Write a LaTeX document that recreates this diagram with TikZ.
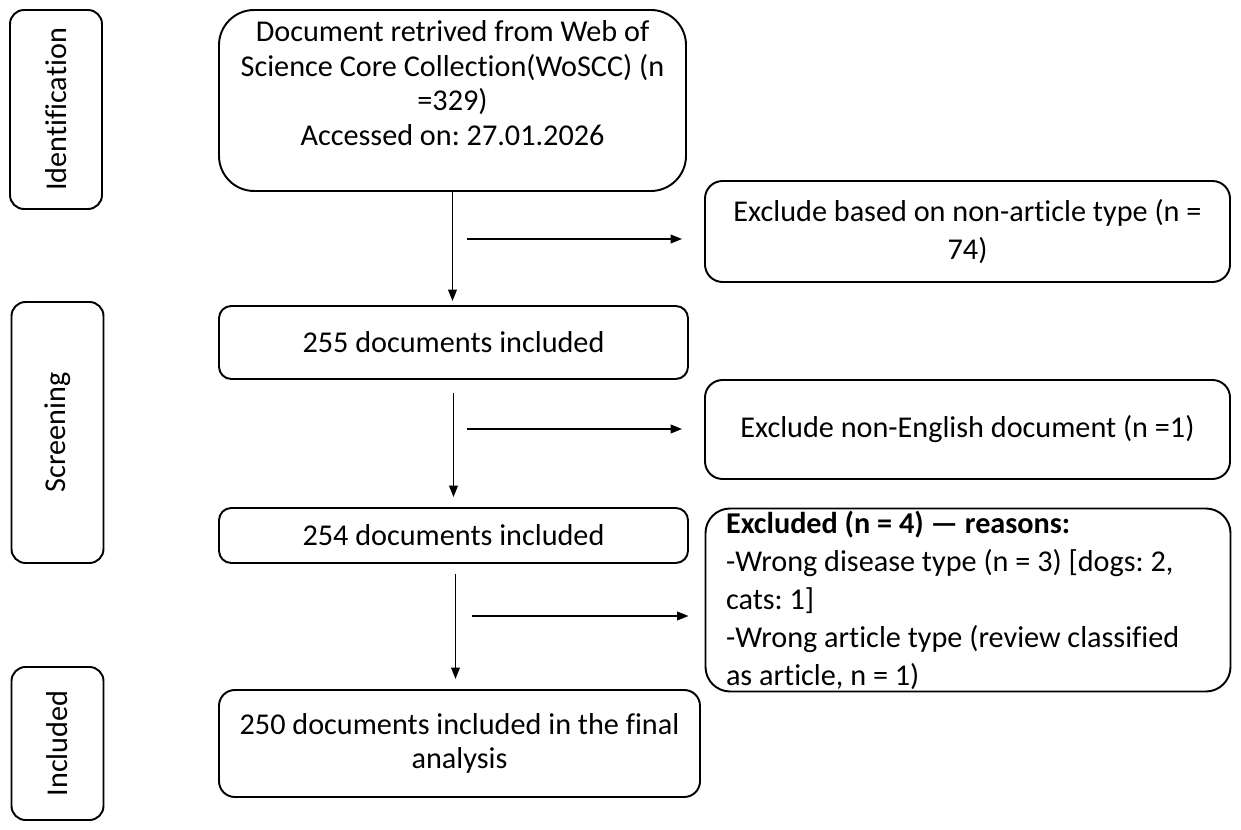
\documentclass[tikz,border=0pt]{standalone}
\usepackage{fontspec}
\setmainfont{Carlito}[Ligatures=NoCommon]
\usepackage{tikz}
\usetikzlibrary{arrows.meta,positioning,calc}
\newlength\pxu
\setlength\pxu{0.02cm}
\frenchspacing

\begin{document}
\begin{tikzpicture}[x=\pxu,y=-\pxu,font=\fontsize{17.2}{19.7}\selectfont,
  >={Triangle[length=6.5pt,width=5pt]},
  box/.style={draw,line width=1.1pt,rounded corners=#1,inner sep=0pt,align=center},
  box/.default=7pt,
  phase/.style={box=8pt,rotate=90,minimum height=92\pxu},
  exbox/.style={box=10pt,minimum width=525\pxu,font=\fontsize{17.2}{21.6}\selectfont},
  flow/.style={->,line width=0.8pt}]
  \useasboundingbox (0,0) rectangle (1241,830);

  \node[phase,minimum width=199\pxu] (idf) at (56,109.5) {Identification};
  \node[phase,minimum width=261\pxu] (scr) at (57.5,432.5) {Screening};
  \node[phase,minimum width=153\pxu] (inc) at (57.5,743.5) {Included};

  \node[box=20pt,minimum width=467\pxu,minimum height=181\pxu] (src) at (452.5,100.5)
    {Document retrived from Web of\\Science Core Collection(WoSCC) (n\\=329)\\Accessed on: 27.01.2026\\\mbox{}};
  \node[exbox,minimum height=101\pxu] (ex1) at (967.5,231.5)
    {Exclude based on non-article type (n =\\74)};
  \node[box,minimum width=469\pxu,minimum height=73\pxu] (n255) at (453.5,342.5) {255 documents included};
  \node[exbox,minimum height=99\pxu] (ex2) at (967.5,429.5) {Exclude non-English document (n =1)};
  \node[box,minimum width=469\pxu,minimum height=55\pxu] (n254) at (453.5,535.5) {254 documents included};
  \node[exbox,box=14pt,minimum height=183\pxu,text width=484\pxu,inner xsep=20\pxu,align=flush left] (ex3) at (968,600)
    {\textbf{Excluded (n = 4) — reasons:}\\-Wrong disease type (n = 3) [dogs: 2,\\cats: 1]\\-Wrong article type (review classified\\as article, n = 1)};
  \node[box=9pt,minimum width=481\pxu,minimum height=107\pxu] (fin) at (459.5,743.5)
    {250 documents included in the final\\analysis};

  \coordinate (h1) at (467,239);
  \coordinate (h2) at (467,429);
  \coordinate (h3) at (472,616);

  \draw[flow] (src.south) -- ($(src.south |- n255.north)+(0,-4)$);
  \draw[flow] ($(n255.south)+(0,13)$) -- ($(n254.north)+(0,-10)$);
  \draw[flow] ($(n254.south)+(2,10)$) -- ($(n254.south -| fin.north)+(-4,115)$);
  \draw[flow] (h1) -- ($(h1 -| ex1.west)+(-22,0)$);
  \draw[flow] (h2) -- ($(h2 -| ex2.west)+(-22,0)$);
  \draw[flow] (h3) -- ($(h3 -| ex3.west)+(-16,0)$);
\end{tikzpicture}
\end{document}
